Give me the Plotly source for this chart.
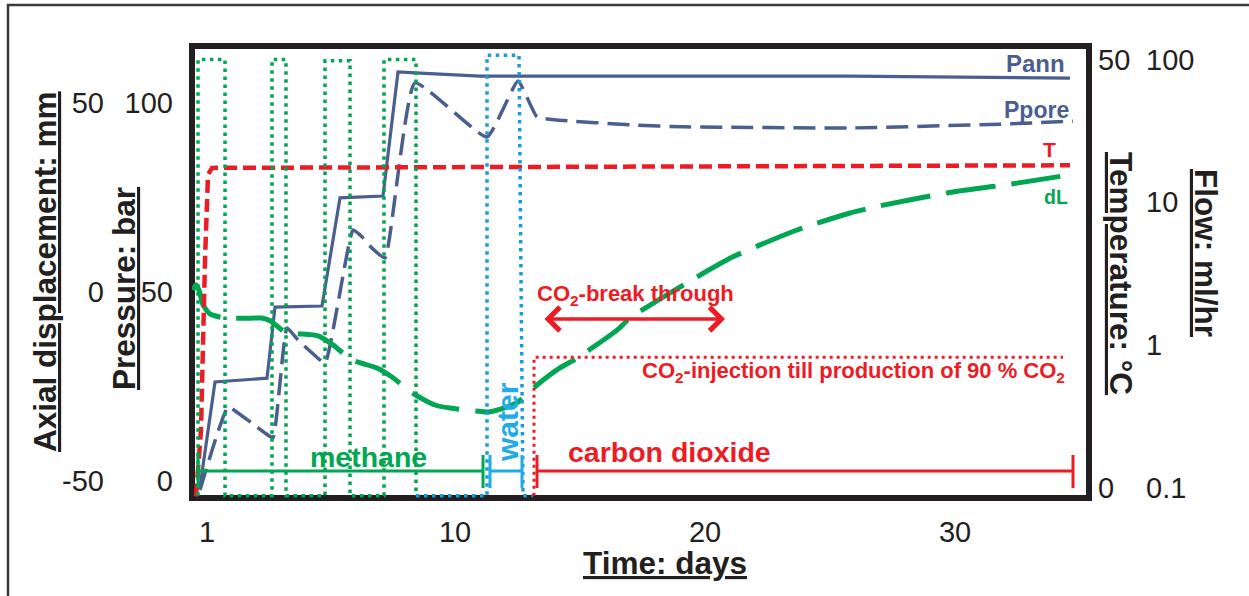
import plotly.graph_objects as go

# ---------------- data ----------------
# annular (confining) pressure, bar
pann_day = [-0.2, 0.4, 2.48, 2.8, 4.68, 5.4, 7.12, 7.72, 8.6, 11.0, 19.8, 25.8, 34.6]
pann_bar = [-1.5, 26.2, 27.2, 46.0, 46.3, 74.9, 75.4, 108.2, 107.9, 107.1, 107.1, 107.1, 106.6]

# pore pressure, bar
ppore_day = [-0.2, 0.92, 1.32, 1.88, 2.4, 2.72, 3.28, 3.72, 4.28, 4.8, 5.92, 6.28, 6.68, 7.2,
             8.4, 11.28, 12.52, 13.28, 14.08, 17.12, 19.12, 25.8, 31.8, 34.72]
ppore_bar = [-2.4, 19.6, 18.0, 15.3, 12.7, 11.4, 40.5, 37.3, 33.9, 31.2, 66.4, 64.6, 61.6, 59.0,
             105.3, 91.0, 105.8, 96.3, 95.5, 94.2, 93.7, 93.4, 94.4, 95.2]

# temperature, deg C
temp_day = [-0.36, -0.16, 0.0, 0.12, 0.28, 34.6]
temp_c = [-1.0, 6.8, 26.6, 36.6, 37.4, 37.7]

# axial displacement, mm
dl_day = [-0.48, -0.36, -0.24, -0.08, 0.2, 0.8, 2.0, 2.28, 2.68, 3.2, 4.52, 5.12, 5.88, 6.88,
          7.48, 8.28, 9.2, 9.8, 11.4, 12.08, 12.52, 13.28, 14.12, 14.88, 16.48, 17.0, 19.4,
          21.12, 23.68, 25.8, 27.0, 29.68, 32.48, 34.6]
dl_mm = [0.5, 1.9, 0.5, -3.4, -5.8, -6.9, -6.9, -6.9, -7.9, -10.6, -11.6, -14.0, -18.0, -20.1,
         -22.5, -26.7, -29.9, -30.7, -31.7, -30.4, -29.1, -24.6, -20.4, -17.5, -10.1, -6.9, 2.9,
         9.3, 16.4, 20.9, 22.8, 26.2, 28.8, 31.0]

# flow rates, ml/hr (0.088 = no flow, drawn at the axis floor)
ch4_day = [-0.28, -0.28, 0.8, 0.8, 2.68, 2.68, 3.24, 3.24, 4.8, 4.8, 5.8, 5.8, 7.16, 7.16, 8.44, 8.44]
ch4_flow = [0.088, 100, 100, 0.088, 0.088, 100, 100, 0.088, 0.088, 98, 98, 0.088, 0.088, 100, 100, 0.088]
h2o_day = [8.44, 11.28, 11.28, 12.56, 12.72, 13.12]
h2o_flow = [0.088, 0.088, 107, 107, 0.088, 0.088]
co2_day = [13.16, 13.16, 34.32]
co2_flow = [0.088, 0.82, 0.82]

# injection phases (start day, end day)
phase_names = ["methane", "water", "carbon dioxide"]
phase_start = [-0.28, 11.4, 13.28]
phase_end = [11.12, 12.68, 34.72]
breakthrough = [13.52, 20.8]

# ticks
x_tick_vals = [0.08, 10, 20, 30]
x_tick_text = ["1", "10", "20", "30"]
p_ticks = [0, 50, 100]
p_tick_text = ["0", "50", "100"]
dl_ticks = [-50, 0, 50]
dl_tick_text = ["-50", "0", "50"]
t_ticks = [0, 50]
t_tick_text = ["0", "50"]
flow_ticks = [0.1, 1, 10, 100]
flow_tick_text = ["0.1", "1", "10", "100"]

# ---------------- styling ----------------
INK = "#231f20"
SLATE = "#4a5f8f"
GREEN = "#00a651"
RED = "#ed1c24"
WBLUE = "#1b9bd7"
WTEXT = "#1fabe6"
FONT = "Liberation Sans, Arial, sans-serif"

W, H = 1249, 596
L, R, TOP, BOT = 192, 1089, 46, 498


def fx(p):
    return (p - L) / (R - L)


def fy(p):
    return (BOT - p) / (BOT - TOP)


fig = go.Figure()
dot = "3.5px,4.5px"
fig.add_trace(go.Scatter(x=ch4_day, y=ch4_flow, yaxis="y4", mode="lines",
                         line=dict(color=GREEN, width=3.5, dash=dot)))
fig.add_trace(go.Scatter(x=h2o_day, y=h2o_flow, yaxis="y4", mode="lines",
                         line=dict(color=WBLUE, width=3.5, dash=dot)))
fig.add_trace(go.Scatter(x=co2_day, y=co2_flow, yaxis="y4", mode="lines",
                         line=dict(color=RED, width=3, dash="3px,4px")))
fig.add_trace(go.Scatter(x=temp_day, y=temp_c, yaxis="y3", mode="lines",
                         line=dict(color=RED, width=4.5, dash="13px,6px")))
fig.add_trace(go.Scatter(x=ppore_day, y=ppore_bar, yaxis="y", mode="lines",
                         line=dict(color=SLATE, width=3.5, dash="22px,9px", shape="spline", smoothing=0.4)))
fig.add_trace(go.Scatter(x=pann_day, y=pann_bar, yaxis="y", mode="lines",
                         line=dict(color=SLATE, width=3.2)))
fig.add_trace(go.Scatter(x=dl_day, y=dl_mm, yaxis="y2", mode="lines",
                         line=dict(color=GREEN, width=5, dash="50px,16px", shape="spline", smoothing=0.6)))

# phase bars with end caps
phase_colors = [GREEN, WTEXT, RED]
bar_y = fy(471)
cap_lo, cap_hi = fy(488), fy(455)
shapes = []
for s, e, c in zip(phase_start, phase_end, phase_colors):
    shapes.append(dict(type="line", xref="x", yref="paper", x0=s, x1=e, y0=bar_y, y1=bar_y,
                       line=dict(color=c, width=3)))
    for xx in (s, e):
        shapes.append(dict(type="line", xref="x", yref="paper", x0=xx, x1=xx, y0=cap_lo, y1=cap_hi,
                           line=dict(color=c, width=3)))
# plot frame (drawn beneath the curves, as in the reference)
shapes.append(dict(type="rect", xref="paper", yref="paper", x0=0, x1=1, y0=0, y1=1,
                   line=dict(color=INK, width=6), layer="below"))
# outer border
shapes.append(dict(type="rect", xref="paper", yref="paper", x0=fx(8), x1=fx(1258), y0=fy(605), y1=fy(5),
                   line=dict(color="#3a3a3a", width=2.5), layer="above"))

ann = []


def txt(text, x, y, size, color, xanchor="center", angle=0, bold=True):
    t = f"<b>{text}</b>" if bold else text
    ann.append(dict(text=t, x=fx(x), y=fy(y), xref="paper", yref="paper", showarrow=False,
                    xanchor=xanchor, yanchor="middle", textangle=angle,
                    font=dict(family=FONT, size=size, color=color)))


# axis titles
txt("<u>Axial displacement: mm</u>", 45, 272, 31.5, INK, angle=-90)
txt("<u>Pressure: bar</u>", 124, 289, 31.5, INK, angle=-90)
txt("<u>Time: days</u>", 665, 563, 31.5, INK)
txt("<u>Temperature: °C</u>", 1121, 273, 31.5, INK, angle=90)
txt("<u>Flow: ml/hr</u>", 1206, 253, 31.5, INK, angle=90)

# series labels
txt("Pann", 1067, 63, 24, SLATE, xanchor="right")
txt("Ppore", 1071, 110, 23, SLATE, xanchor="right")
txt("T", 1058, 149, 21, RED, xanchor="right")
txt("dL", 1070, 197, 19.5, GREEN, xanchor="right")

# phase labels
txt(phase_names[0], 368, 457, 28.5, GREEN)
txt(phase_names[2], 669, 452, 28.5, RED)
txt(phase_names[1], 507, 422, 30, WTEXT, angle=-90)

txt("CO<sub>2</sub>-break through", 535, 295, 22, RED, xanchor="left")
txt("CO<sub>2</sub>-injection till production of 90 % CO<sub>2</sub>", 1067, 372, 22, RED, xanchor="right")

# breakthrough double arrow
ann.append(dict(x=breakthrough[1], y=fy(319), ax=breakthrough[0], ay=0,
                xref="x", yref="paper", axref="x", ayref="pixel", text="",
                showarrow=True, arrowside="end+start", arrowhead=4, startarrowhead=4,
                arrowsize=1.3, startarrowsize=1.3, arrowwidth=3.5, arrowcolor=RED,
                standoff=0, startstandoff=0))

tickfont = dict(family=FONT, size=29, color=INK)
common = dict(showgrid=False, zeroline=False, showline=False, ticks="", tickfont=tickfont)

fig.update_layout(
    width=W, height=H,
    margin=dict(l=L, r=W - R, t=TOP, b=H - BOT, pad=0),
    paper_bgcolor="white", plot_bgcolor="white",
    showlegend=False,
    font=dict(family=FONT, color=INK),
    xaxis=dict(range=[-0.52, 35.36], tickvals=x_tick_vals, ticktext=x_tick_text,
               ticklabelstandoff=14, **common),
    yaxis=dict(range=[-4.5, 115.08], tickvals=p_ticks, ticktext=p_tick_text,
               ticklabelstandoff=18, **common),
    yaxis2=dict(overlaying="y", anchor="free", position=0, side="left", range=[-54.5, 65.08],
                tickvals=dl_ticks, ticktext=dl_tick_text, ticklabelstandoff=88, **common),
    yaxis3=dict(overlaying="y", anchor="x", side="right", range=[-1.17, 51.64],
                tickvals=t_ticks, ticktext=t_tick_text, ticklabelstandoff=8, **common),
    yaxis4=dict(overlaying="y", anchor="free", position=1, side="right", type="log",
                range=[-1.072, 2.095], tickvals=flow_ticks, ticktext=flow_tick_text,
                ticklabelstandoff=56, **common),
    shapes=shapes,
    annotations=ann,
)

fig.write_html("out.html", config={"displayModeBar": False},
               post_script="document.body.style.margin='0px';")
